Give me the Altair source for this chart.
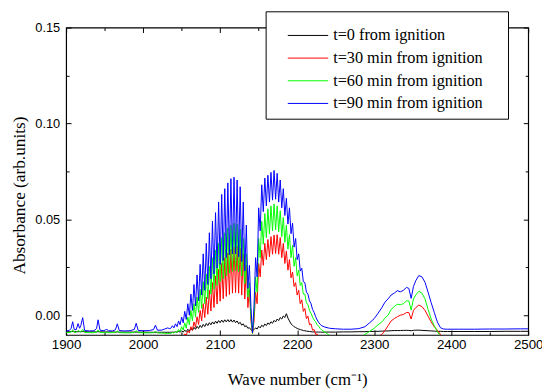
import altair as alt
import pandas as pd

# ---------------- data ----------------
wavenumber = [
    1900, 1904, 1906.5, 1908.5, 1910.5, 1913, 1915.5, 1917.5, 1919, 1921.5,
    1924, 1930, 1936, 1939.5, 1941.5, 1944, 1948, 1951, 1953, 1955,
    1960, 1964, 1966.5, 1969, 1975, 1983, 1988.5, 1991, 1993.5, 2000,
    2008, 2013.5, 2016, 2018.5, 2024, 2028, 2032, 2034,
    2036, 2038, 2040, 2042, 2044, 2046, 2048, 2050, 2052, 2054,
    2056, 2058, 2060, 2062, 2064, 2066, 2068, 2070, 2072, 2074,
    2076, 2078, 2080, 2082, 2084, 2086, 2088, 2090, 2092, 2094,
    2096, 2098, 2100, 2102, 2104, 2106, 2108, 2110, 2112, 2114,
    2116, 2118, 2120, 2122, 2124, 2126, 2128, 2130, 2132, 2134,
    2136, 2138, 2140, 2142, 2144, 2146, 2148, 2150, 2152, 2154,
    2156, 2158, 2160, 2162, 2164, 2166, 2168, 2170, 2172, 2174,
    2176, 2178, 2180, 2182, 2184, 2186, 2188, 2190, 2192, 2194,
    2196, 2198, 2200, 2202, 2204, 2206, 2208, 2210, 2212, 2214,
    2216, 2218, 2220, 2222, 2224, 2226, 2228, 2230, 2232,
    2236, 2242, 2250, 2260, 2270, 2280, 2288, 2294, 2300, 2305,
    2310, 2314, 2318, 2322, 2326, 2330, 2334, 2338, 2342, 2345,
    2348, 2351, 2354, 2358, 2362, 2366, 2370, 2374, 2378, 2382,
    2386, 2390, 2395, 2410, 2430, 2450, 2470, 2490, 2500,
]

abs_t0 = [
    -0.0086, -0.0086, -0.0086, -0.0085, -0.0086, -0.0086, -0.0086, -0.0086, -0.0086, -0.0085,
    -0.0086, -0.0087, -0.0087, -0.0087, -0.0086, -0.0087, -0.0087, -0.0087, -0.0087, -0.0087,
    -0.0087, -0.0088, -0.0087, -0.0088, -0.0088, -0.0088, -0.0088, -0.0088, -0.0088, -0.0088,
    -0.0089, -0.0089, -0.0089, -0.0089, -0.0089, -0.0089, -0.0089, -0.0089,
    -0.0089, -0.0088, -0.0089, -0.0087, -0.0088, -0.0085, -0.0088, -0.0082, -0.0088, -0.0078,
    -0.0086, -0.0073, -0.0083, -0.0068, -0.0079, -0.0063, -0.0074, -0.0058, -0.0069, -0.0053,
    -0.0064, -0.0048, -0.0059, -0.0043, -0.0054, -0.0039, -0.0050, -0.0035, -0.0046, -0.0031,
    -0.0042, -0.0028, -0.0039, -0.0025, -0.0037, -0.0024, -0.0035, -0.0023, -0.0035, -0.0023,
    -0.0036, -0.0025, -0.0039, -0.0030, -0.0045, -0.0037, -0.0052, -0.0045, -0.0060, -0.0055,
    -0.0068, -0.0065, -0.0076, -0.0080, -0.0075, -0.0066, -0.0072, -0.0058, -0.0066, -0.0052,
    -0.0060, -0.0046, -0.0054, -0.0040, -0.0048, -0.0034, -0.0042, -0.0027, -0.0035, -0.0020,
    -0.0028, -0.0012, -0.0020, -0.0004, -0.0012, 0.0008, -0.0015, -0.0030, -0.0045, -0.0052,
    -0.0060, -0.0064, -0.0069, -0.0072, -0.0075, -0.0077, -0.0080, -0.0081, -0.0083, -0.0084,
    -0.0085, -0.0086, -0.0087, -0.0087, -0.0088, -0.0088, -0.0088, -0.0088, -0.0089,
    -0.0088, -0.0088, -0.0088, -0.0087, -0.0087, -0.0086, -0.0086, -0.0085, -0.0084, -0.0084,
    -0.0083, -0.0082, -0.0082, -0.0081, -0.0080, -0.0080, -0.0080, -0.0079, -0.0079, -0.0079,
    -0.0081, -0.0079, -0.0078, -0.0078, -0.0079, -0.0080, -0.0081, -0.0082, -0.0083, -0.0084,
    -0.0084, -0.0085, -0.0085, -0.0085, -0.0085, -0.0085, -0.0084, -0.0084, -0.0084,
]

abs_t30 = [
    -0.0117, -0.0117, -0.0116, -0.0108, -0.0116, -0.0117, -0.0111, -0.0114, -0.0116, -0.0106,
    -0.0117, -0.0118, -0.0118, -0.0117, -0.0109, -0.0118, -0.0118, -0.0118, -0.0117, -0.0118,
    -0.0119, -0.0118, -0.0113, -0.0119, -0.0119, -0.0120, -0.0119, -0.0113, -0.0120, -0.0120,
    -0.0120, -0.0120, -0.0116, -0.0120, -0.0121, -0.0121, -0.0121, -0.0121,
    -0.0121, -0.0120, -0.0120, -0.0118, -0.0118, -0.0114, -0.0114, -0.0108, -0.0110, -0.0098,
    -0.0103, -0.0082, -0.0092, -0.0060, -0.0078, -0.0035, -0.0063, -0.0008, -0.0048, 0.0025,
    -0.0030, 0.0060, -0.0012, 0.0095, 0.0005, 0.0130, 0.0022, 0.0170, 0.0040, 0.0205,
    0.0058, 0.0240, 0.0073, 0.0270, 0.0086, 0.0300, 0.0098, 0.0325, 0.0108, 0.0345,
    0.0115, 0.0355, 0.0118, 0.0360, 0.0115, 0.0350, 0.0105, 0.0320, 0.0085, 0.0260,
    0.0040, 0.0130, -0.0030, -0.0095, -0.0030, 0.0120, 0.0060, 0.0270, 0.0200, 0.0340,
    0.0260, 0.0375, 0.0290, 0.0395, 0.0305, 0.0410, 0.0318, 0.0418, 0.0322, 0.0420,
    0.0318, 0.0405, 0.0300, 0.0375, 0.0270, 0.0335, 0.0235, 0.0290, 0.0195, 0.0225,
    0.0150, 0.0170, 0.0105, 0.0130, 0.0060, 0.0080, 0.0020, 0.0035, -0.0018, -0.0005,
    -0.0050, -0.0045, -0.0078, -0.0075, -0.0100, -0.0098, -0.0115, -0.0115, -0.0125,
    -0.0130, -0.0135, -0.0140, -0.0142, -0.0142, -0.0140, -0.0135, -0.0128, -0.0118, -0.0110,
    -0.0100, -0.0080, -0.0055, -0.0030, -0.0018, -0.0008, 0.0000, 0.0004, 0.0014, 0.0014,
    -0.0020, 0.0025, 0.0040, 0.0053, 0.0045, 0.0025, -0.0005, -0.0035, -0.0060, -0.0078,
    -0.0100, -0.0120, -0.0130, -0.0135, -0.0135, -0.0135, -0.0135, -0.0135, -0.0135,
]

abs_t60 = [
    -0.0090, -0.0090, -0.0088, -0.0076, -0.0089, -0.0090, -0.0080, -0.0084, -0.0088, -0.0074,
    -0.0090, -0.0091, -0.0091, -0.0089, -0.0077, -0.0090, -0.0091, -0.0091, -0.0089, -0.0091,
    -0.0091, -0.0090, -0.0082, -0.0091, -0.0092, -0.0092, -0.0090, -0.0080, -0.0091, -0.0092,
    -0.0092, -0.0091, -0.0085, -0.0092, -0.0093, -0.0094, -0.0095, -0.0095,
    -0.0094, -0.0090, -0.0093, -0.0085, -0.0090, -0.0075, -0.0085, -0.0060, -0.0078, -0.0040,
    -0.0068, -0.0010, -0.0050, 0.0025, -0.0030, 0.0060, -0.0010, 0.0095, 0.0015, 0.0135,
    0.0035, 0.0175, 0.0060, 0.0215, 0.0085, 0.0255, 0.0110, 0.0300, 0.0135, 0.0340,
    0.0155, 0.0375, 0.0175, 0.0405, 0.0190, 0.0430, 0.0205, 0.0455, 0.0220, 0.0470,
    0.0228, 0.0480, 0.0232, 0.0475, 0.0225, 0.0450, 0.0205, 0.0400, 0.0165, 0.0320,
    0.0095, 0.0170, -0.0010, -0.0095, 0.0000, 0.0200, 0.0120, 0.0400, 0.0300, 0.0490,
    0.0370, 0.0530, 0.0405, 0.0555, 0.0425, 0.0570, 0.0440, 0.0580, 0.0445, 0.0570,
    0.0435, 0.0545, 0.0410, 0.0510, 0.0380, 0.0470, 0.0345, 0.0420, 0.0300, 0.0365,
    0.0255, 0.0300, 0.0205, 0.0235, 0.0155, 0.0170, 0.0110, 0.0110, 0.0065, 0.0055,
    0.0025, 0.0010, -0.0010, -0.0025, -0.0035, -0.0050, -0.0058, -0.0070, -0.0078,
    -0.0088, -0.0105, -0.0118, -0.0125, -0.0125, -0.0118, -0.0100, -0.0085, -0.0068, -0.0050,
    -0.0035, -0.0015, 0.0000, 0.0030, 0.0045, 0.0057, 0.0055, 0.0060, 0.0075, 0.0074,
    0.0027, 0.0085, 0.0105, 0.0125, 0.0115, 0.0085, 0.0030, -0.0020, -0.0055, -0.0085,
    -0.0110, -0.0125, -0.0130, -0.0132, -0.0132, -0.0132, -0.0132, -0.0132, -0.0132,
]

abs_t90 = [
    -0.0082, -0.0080, -0.0068, -0.0034, -0.0074, -0.0076, -0.0044, -0.0068, -0.0055, -0.0013,
    -0.0080, -0.0082, -0.0081, -0.0070, -0.0024, -0.0078, -0.0081, -0.0077, -0.0074, -0.0081,
    -0.0082, -0.0076, -0.0045, -0.0080, -0.0082, -0.0081, -0.0074, -0.0042, -0.0079, -0.0081,
    -0.0080, -0.0075, -0.0052, -0.0078, -0.0078, -0.0072, -0.0066, -0.0070,
    -0.0068, -0.0055, -0.0066, -0.0045, -0.0060, -0.0030, -0.0050, -0.0010, -0.0040, 0.0020,
    -0.0022, 0.0060, 0.0000, 0.0110, 0.0025, 0.0160, 0.0048, 0.0210, 0.0075, 0.0265,
    0.0105, 0.0320, 0.0130, 0.0375, 0.0160, 0.0430, 0.0190, 0.0490, 0.0215, 0.0535,
    0.0245, 0.0590, 0.0265, 0.0630, 0.0285, 0.0660, 0.0300, 0.0690, 0.0315, 0.0712,
    0.0320, 0.0720, 0.0320, 0.0705, 0.0305, 0.0670, 0.0280, 0.0590, 0.0230, 0.0470,
    0.0140, 0.0260, 0.0040, -0.0092, 0.0050, 0.0300, 0.0200, 0.0560, 0.0440, 0.0680,
    0.0540, 0.0715, 0.0570, 0.0730, 0.0590, 0.0745, 0.0600, 0.0755, 0.0605, 0.0740,
    0.0590, 0.0705, 0.0560, 0.0660, 0.0520, 0.0610, 0.0475, 0.0560, 0.0425, 0.0480,
    0.0355, 0.0400, 0.0290, 0.0320, 0.0230, 0.0245, 0.0175, 0.0170, 0.0120, 0.0110,
    0.0075, 0.0060, 0.0030, 0.0015, -0.0008, -0.0025, -0.0038, -0.0048, -0.0055,
    -0.0062, -0.0068, -0.0071, -0.0073, -0.0073, -0.0070, -0.0060, -0.0040, -0.0018, 0.0010,
    0.0040, 0.0068, 0.0085, 0.0105, 0.0115, 0.0128, 0.0122, 0.0130, 0.0145, 0.0140,
    0.0088, 0.0150, 0.0180, 0.0207, 0.0200, 0.0172, 0.0120, 0.0065, 0.0015, -0.0035,
    -0.0065, -0.0072, -0.0073, -0.0073, -0.0073, -0.0072, -0.0072, -0.0071, -0.0071,
]

series_labels = [
    "t=0 from ignition",
    "t=30 min from ignition",
    "t=60 min from ignition",
    "t=90 min from ignition",
]
series_colors = ["#000000", "#ff0000", "#00ff00", "#0000ff"]

x_major = [1900, 2000, 2100, 2200, 2300, 2400, 2500]
x_minor = [1950, 2050, 2150, 2250, 2350, 2450]
y_major = [0.0, 0.05, 0.10, 0.15]
y_minor = [0.025, 0.075, 0.125]

# ---------------- table ----------------
all_series = [abs_t0, abs_t30, abs_t60, abs_t90]
for s in all_series:
    if len(s) != len(wavenumber):
        raise ValueError(f"length mismatch {len(s)} vs {len(wavenumber)}")

rows = []
for lab, ys in zip(series_labels, all_series):
    for xv, yv in zip(wavenumber, ys):
        rows.append({"wn": xv, "absorb": yv, "series": lab})
df = pd.DataFrame(rows)
anchor_df = pd.DataFrame({"wn": [1900.0], "absorb": [0.0]})
legend_df = pd.DataFrame({"series": series_labels})

W, H = 469, 312
xscale = alt.Scale(domain=[1900, 2500], nice=False, zero=False)
yscale = alt.Scale(domain=[-0.0103, 0.15], nice=False, zero=False)
color_scale = alt.Scale(domain=series_labels, range=series_colors)

SANS = "Liberation Sans"
SERIF = "Liberation Serif"

lines = alt.Chart(df).mark_line(strokeWidth=1, clip=True).encode(
    x=alt.X(
        "wn:Q",
        scale=xscale,
        axis=alt.Axis(
            values=x_major, format="d", ticks=False, domain=False, grid=False,
            labelFont=SANS, labelFontSize=13.5, labelColor="black",
            labelPadding=3, labelFlush=False, labelOverlap=False,
            title="Wave number (cm⁻¹)", titleFont=SERIF, titleFontSize=17,
            titleFontWeight="normal", titleColor="black",
            titleY=45, titleBaseline="middle",
        ),
    ),
    y=alt.Y(
        "absorb:Q",
        scale=yscale,
        axis=alt.Axis(
            values=y_major, format=".2f", ticks=False, domain=False, grid=False,
            labelFont=SANS, labelFontSize=13, labelColor="black",
            labelPadding=6.5, labelFlush=False, labelOverlap=False,
            title="Absorbance (arb.units)", titleFont=SERIF, titleFontSize=17.5,
            titleFontWeight="normal", titleColor="black",
            titleX=-47, titleY=170, titleBaseline="middle",
        ),
    ),
    color=alt.Color("series:N", scale=color_scale, legend=None),
)


def tick_layer(x_orient, y_orient, xv, yv, size):
    return alt.Chart(anchor_df).mark_point(opacity=0).encode(
        x=alt.X(
            "wn:Q", scale=xscale,
            axis=alt.Axis(orient=x_orient, offset=-H, values=xv, labels=False,
                          domain=False, grid=False, tickSize=size,
                          tickColor="black", tickWidth=1, title=None),
        ),
        y=alt.Y(
            "absorb:Q", scale=yscale,
            axis=alt.Axis(orient=y_orient, offset=-W, values=yv, labels=False,
                          domain=False, grid=False, tickSize=size,
                          tickColor="black", tickWidth=1, title=None),
        ),
    )


plot = alt.layer(
    lines,
    tick_layer("top", "right", x_major, y_major, 5),
    tick_layer("top", "right", x_minor, y_minor, 3),
    tick_layer("bottom", "left", x_major, y_major, 5),
    tick_layer("bottom", "left", x_minor, y_minor, 3),
).resolve_axis(x="independent", y="independent")

leg_y = alt.Y(
    "series:N", sort=series_labels,
    scale=alt.Scale(type="point", domain=series_labels, range=[8, 77], padding=0),
    axis=None,
)
box = alt.Chart(anchor_df).mark_rect(fill="white", stroke="black", strokeWidth=1).encode(
    x=alt.value(203), x2=alt.value(449), y=alt.value(-16), y2=alt.value(93)
)
leg_lines = alt.Chart(legend_df).mark_rule(strokeWidth=1).encode(
    x=alt.value(225), x2=alt.value(266), y=leg_y,
    color=alt.Color("series:N", scale=color_scale, legend=None),
)
leg_text = alt.Chart(legend_df).mark_text(
    align="left", baseline="middle", font=SERIF, fontSize=16.5, color="black"
).encode(x=alt.value(271), y=leg_y, text="series:N")

legend = alt.layer(box, leg_lines, leg_text)

chart = (
    alt.layer(plot, legend)
    .resolve_scale(y="independent")
    .properties(
        width=W, height=H,
        autosize=alt.AutoSizeParams(type="none"),
        padding={"left": 59, "top": 17, "right": 14, "bottom": 53},
    )
    .configure_view(stroke="black", strokeWidth=1.2)
)

chart.save("out.html", embed_options={"renderer": "svg", "actions": False})
